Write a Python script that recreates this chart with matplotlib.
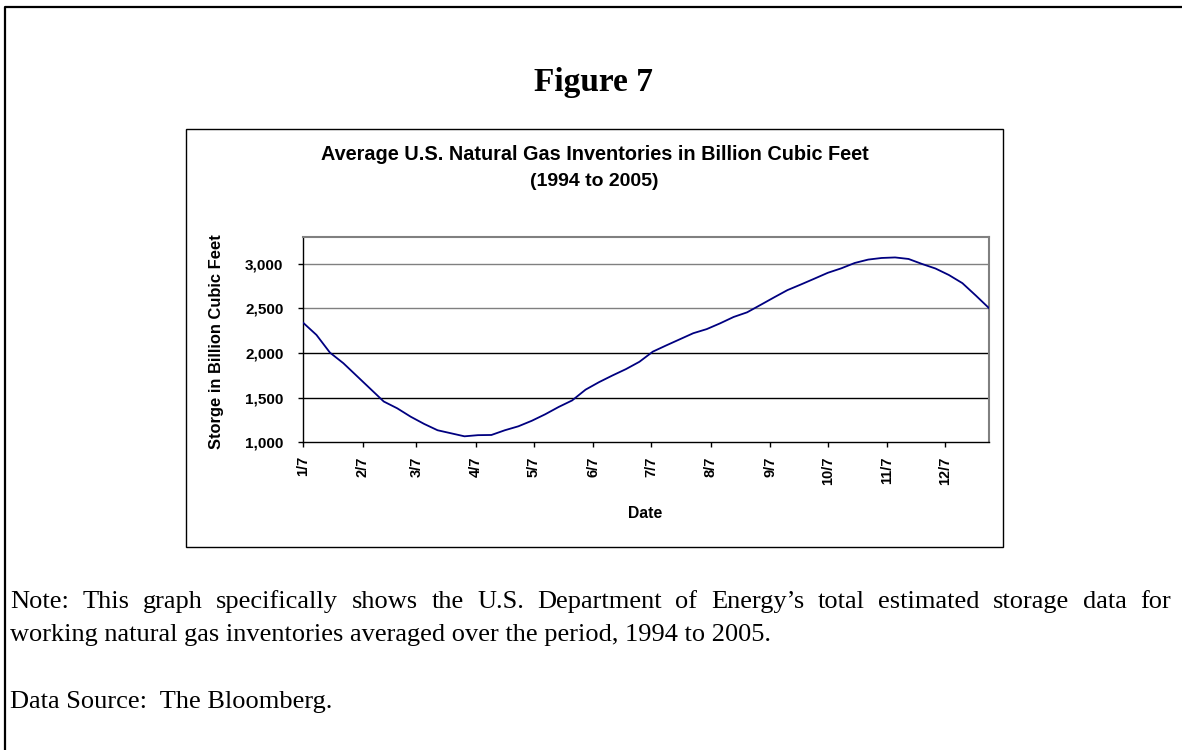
import matplotlib
matplotlib.use("Agg")
import matplotlib.pyplot as plt
from matplotlib.patches import Rectangle
from matplotlib.lines import Line2D
import pandas as pd

# weekly average storage (Bcf), first week = Jan 7
week_dates = pd.date_range("2005-01-07", periods=52, freq="7D")
storage = [2341, 2203, 2005, 1886, 1743, 1600, 1457, 1381, 1287, 1206,
           1135, 1101, 1067, 1080, 1082, 1135, 1179, 1241, 1314, 1396,
           1469, 1590, 1674, 1749, 1820, 1902, 2016, 2086, 2154, 2222,
           2268, 2333, 2404, 2456, 2539, 2623, 2705, 2768, 2833, 2899,
           2949, 3009, 3047, 3065, 3071, 3054, 2998, 2947, 2874, 2783,
           2644, 2500]

tick_dates = pd.date_range("2005-01-07", periods=12, freq=pd.DateOffset(months=1))
tick_labels = ["1/7", "2/7", "3/7", "4/7", "5/7", "6/7",
               "7/7", "8/7", "9/7", "10/7", "11/7", "12/7"]
y_ticks = [1000, 1500, 2000, 2500, 3000]
grid_vals = [1500, 2000, 2500, 3000]
grid_cols = ["black", "black", "#808080", "#808080"]

W, H = 1182, 750
SANS = "Liberation Sans"
SERIF = "Liberation Serif"


def fx(px):
    return px / W


def fy(py):
    return 1 - py / H


def justify(fig, line, x0, x1, y, **kw):
    """Spread the words of a line between x0 and x1 (pixels)."""
    words = line.split()
    r = fig.canvas.get_renderer()
    texts = [fig.text(0, fy(y), w, va="center", **kw) for w in words]
    widths = [t.get_window_extent(r).width for t in texts]
    gap = ((x1 - x0) - sum(widths)) / (len(words) - 1)
    pos = x0
    for t, w in zip(texts, widths):
        t.set_x(fx(pos))
        pos += w + gap


def main():
    fig = plt.figure(figsize=(W / 100, H / 100), dpi=100)

    # outer page frame (left + top only)
    fig.add_artist(Line2D([fx(5), fx(5), fx(W)], [0, fy(6.5), fy(6.5)],
                          transform=fig.transFigure, color="black", lw=1.6))

    fig.text(fx(594), fy(82), "Figure 7", ha="center", va="center",
             family=SERIF, weight="bold", fontsize=24)

    # chart frame
    fig.add_artist(Rectangle((fx(186), fy(547)), fx(1003) - fx(186), fy(129) - fy(547),
                             transform=fig.transFigure, fill=False,
                             edgecolor="black", lw=1))
    fig.text(fx(594.5), fy(155), "Average U.S. Natural Gas Inventories in Billion Cubic Feet",
             ha="center", va="center", family=SANS, weight="bold", fontsize=14.3)
    fig.text(fx(594.5), fy(181), "(1994 to 2005)",
             ha="center", va="center", family=SANS, weight="bold", fontsize=14)

    ax = fig.add_axes([fx(303), fy(442.3), fx(989.3) - fx(303), fy(237) - fy(442.3)])
    for v, c in zip(grid_vals, grid_cols):
        ax.axhline(v, color=c, lw=1, zorder=1)
    ax.plot(week_dates, storage, color="#000080", lw=1.3, zorder=3)

    ax.set_xlim(week_dates[0], week_dates[-1])
    ax.set_ylim(1000, 3300)
    ax.set_xticks(tick_dates)
    ax.set_xticklabels(tick_labels, rotation=90, family=SANS, weight="bold", fontsize=10.5)
    ax.set_yticks(y_ticks)
    ax.set_yticklabels([f"{v:,}" for v in y_ticks], family=SANS, weight="bold", fontsize=11)
    ax.tick_params(direction="out", length=3.5, width=1)
    ax.tick_params(axis="x", pad=6.5)
    ax.tick_params(axis="y", pad=10.5)
    ax.minorticks_off()

    for s in ["left", "bottom"]:
        ax.spines[s].set_color("black")
        ax.spines[s].set_linewidth(1)
    for s in ["top", "right"]:
        ax.spines[s].set_color("#808080")
        ax.spines[s].set_linewidth(1.5)

    fig.text(fx(645), fy(513), "Date", ha="center", va="center",
             family=SANS, weight="bold", fontsize=11.3)
    fig.text(fx(217), fy(342), "Storge in Billion Cubic Feet", ha="center", va="center",
             rotation=90, family=SANS, weight="bold", fontsize=11.9)

    # note below the chart
    justify(fig, "Note:  This graph specifically shows the U.S. Department of Energy\u2019s "
                 "total estimated storage data for", 10, 1171, 602,
            family=SERIF, fontsize=19)
    fig.text(fx(10), fy(635), "working natural gas inventories averaged over the period, 1994 to 2005.",
             va="center", family=SERIF, fontsize=19)
    fig.text(fx(10), fy(702), "Data Source:  The Bloomberg.",
             va="center", family=SERIF, fontsize=19)

    fig.savefig("out.png", dpi=100)


if __name__ == "__main__":
    main()
